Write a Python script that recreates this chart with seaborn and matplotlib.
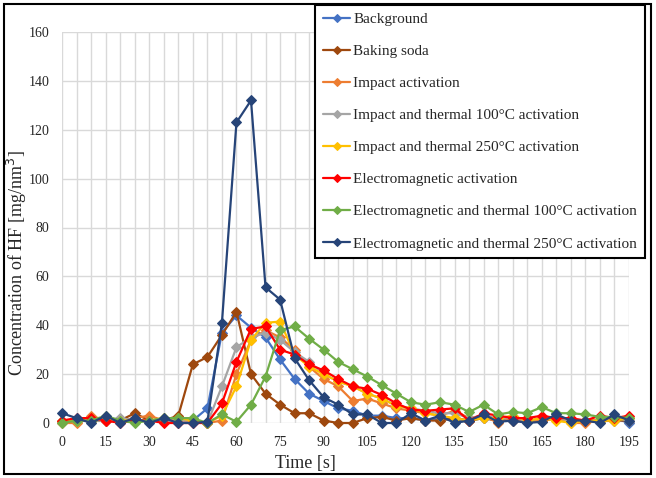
import numpy as np
import pandas as pd
import matplotlib
matplotlib.use("Agg")
import matplotlib.pyplot as plt
import matplotlib.patches as patches
import seaborn as sns

# Time axis [s]
time_s = list(range(0, 200, 5))

# HF concentration per series [mg/nm3]
background = [1, 1, 2, 2, 1, 1, 1, 1, 1, 1, 6, 37, 44, 39, 35, 26, 18, 12, 9, 6,
              5, 3, 3, 2, 2, 1, 2, 1, 1, 2, 1, 1, 1, 1, 2, 1, 1, 1, 2, 0]
baking_soda = [1, 1, 1, 1, 1, 4, 1, 1, 3, 24, 27, 36, 45.5, 20, 12, 7.5, 4, 4, 1, 0,
               0, 2, 2.5, 1, 2, 1, 1, 2, 1, 2, 1, 1, 1, 1, 2, 1, 1, 1, 1, 1]
impact = [0, 0, 3, 1, 1, 2, 3, 1, 1, 1, 0, 1, 20, 34, 38, 35, 30, 23, 18, 15,
          9, 10, 8, 6, 5, 4, 3, 5, 2, 3, 0, 2, 1, 1, 2, 0, 0, 1, 2, 2]
impact_100 = [1, 1, 1, 1, 2, 1, 1, 1, 1, 1, 0, 15, 31, 35, 37, 34, 29, 25, 20, 17,
              15, 12, 10, 7, 6, 5, 4, 4, 2, 3, 2, 2, 1, 2, 2, 1, 1, 1, 2, 1]
impact_250 = [1, 1, 1, 2, 1, 1, 1, 2, 2, 1, 0, 3, 15, 34, 41, 41.5, 28, 23, 20, 17,
              15, 12, 10, 7, 6, 4, 3, 2, 1, 2, 2, 3, 1, 2, 1, 0, 1, 1, 1, 2]
electro = [1, 2, 2, 1, 0, 1, 1, 0, 0, 0, 0, 8, 25, 38.5, 39.5, 30, 28, 24, 21.5, 18,
           15, 14, 11.5, 8, 5.5, 5, 5.5, 6, 1, 4, 3, 2, 2, 3, 2, 2, 1, 3, 2, 3]
electro_100 = [0, 1, 1, 3, 1, 0, 1, 2, 2, 2, 0, 3.5, 0.5, 7.5, 19, 38, 39.5, 34.5, 30, 25,
               22, 19, 15.5, 12, 8.5, 7.5, 8.5, 7.5, 4.5, 7.5, 3.5, 4.5, 4, 6.5, 4, 4, 3.5, 2.5, 2.5, 2]
electro_250 = [4, 2, 0, 3, 0, 2, 0, 2, 0, 0, 0.5, 41, 123, 132, 55.5, 50.5, 26.5, 17.5, 10.5, 7.5,
               3.5, 3.5, 0, 0, 4, 1, 3, 0, 1, 3.5, 0.5, 1, 0, 0.5, 3.5, 1, 1, 0, 3.5, 1]

labels = ["Background", "Baking soda", "Impact activation",
          "Impact and thermal 100°C activation", "Impact and thermal 250°C activation",
          "Electromagnetic activation", "Electromagnetic and thermal 100°C activation",
          "Electromagnetic and thermal 250°C activation"]
series = [background, baking_soda, impact, impact_100, impact_250,
          electro, electro_100, electro_250]
colors = ["#4472C4", "#9E480E", "#ED7D31", "#A5A5A5", "#FFC000",
          "#FF0000", "#70AD47", "#264478"]

sns.set_style("whitegrid")
plt.rcParams['font.family'] = ['Liberation Serif', 'DejaVu Serif']

fig = plt.figure(figsize=(6.56, 4.78), dpi=100)
ax = fig.add_axes([62 / 656, 1 - 423 / 478, (629 - 62) / 656, (423 - 32) / 478])

for lab, vals, col in zip(labels, series, colors):
    sns.lineplot(x=time_s, y=vals, ax=ax, color=col, label=lab, linewidth=1.6,
                 marker="D", markersize=5.5, markeredgecolor=col, clip_on=False)

ax.set_xlim(0, 195)
ax.set_ylim(0, 160)
ax.set_xticks(range(0, 200, 15))
ax.set_xticks(range(0, 200, 5), minor=True)
ax.set_yticks(range(0, 161, 20))
ax.grid(True, which="both", color="#D9D9D9", linewidth=1)
ax.tick_params(which="both", length=0, labelsize=10)
ax.tick_params(axis="y", pad=9)
ax.tick_params(axis="x", pad=9)
for s in ax.spines.values():
    s.set_visible(False)

ax.set_xlabel("Time [s]", fontsize=13)
ax.xaxis.set_label_coords((305 - 62) / 567, -(455 - 423) / 391)
ax.set_ylabel("Concentration of HF [mg/nm$^3$]", fontsize=13)
ax.yaxis.set_label_coords(-(62 - 29) / 567, 0.41)

leg = ax.legend(loc="upper right", bbox_to_anchor=(645 / 656, 1 - 5 / 478),
                bbox_transform=fig.transFigure, borderaxespad=0, fontsize=11,
                frameon=True, fancybox=False, framealpha=1, edgecolor="black",
                labelspacing=1.2, handlelength=1.8, handletextpad=0.2,
                borderpad=0.5, markerscale=0.8)
leg.get_frame().set_linewidth(1.5)
leg.set_zorder(10)

fig.patches.append(patches.Rectangle((4 / 656, 4 / 478), 647 / 656, 470 / 478,
                                     transform=fig.transFigure, fill=False,
                                     edgecolor="black", linewidth=1.5))

fig.savefig("out.png", dpi=100)
